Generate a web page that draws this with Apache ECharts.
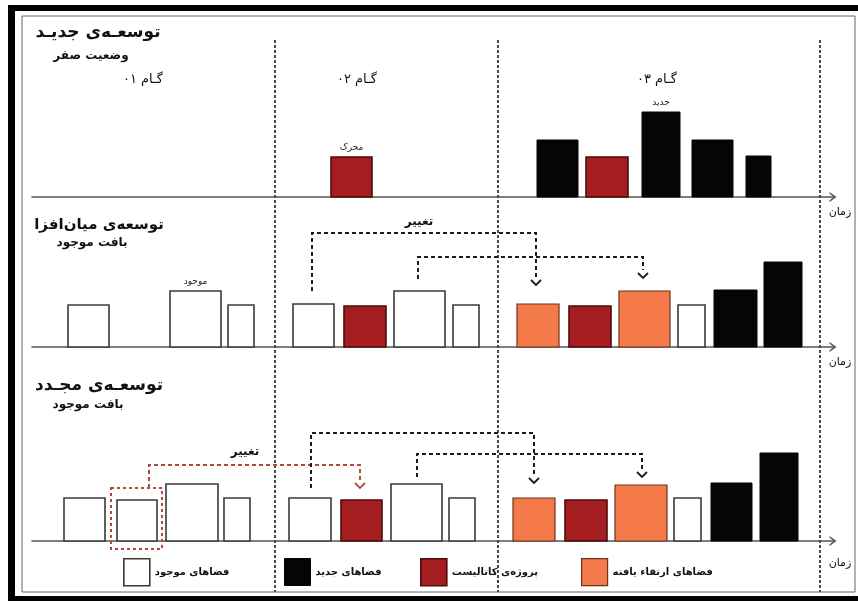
<!DOCTYPE html>
<html><head><meta charset="utf-8">
<script src="https://cdn.jsdelivr.net/npm/echarts@6/dist/echarts.min.js"></script>
<style>html,body{margin:0;padding:0;background:#fff}#c{width:858px;height:601px}</style>
</head><body><div id="c"></div>
<script>
// ---------- data ----------
const stageNames = ['گـام ۰۱', 'گـام ۰۲', 'گـام ۰۳'];
const stageBounds = [275, 498, 820];
const typeNames = ['فضاهای موجود', 'فضاهای جدید', 'پروژه‌ی کاتالیست', 'فضاهای ارتقاء یافته'];
const rowTitles = ['توسعـه‌ی جدیـد', 'توسعه‌ی میان‌افزا', 'توسعـه‌ی مجـدد'];
const rowSubtitles = ['وضعیت صفر', 'بافت موجود', 'بافت موجود'];
const timeLabel = 'زمان';
const changeLabel = 'تغییر';

// type: 0 existing, 1 new, 2 catalyst, 3 upgraded
const row1Left   = [331, 537, 586, 642, 692, 746];
const row1Right  = [372, 578, 628, 680, 733, 771];
const row1Height = [40, 57, 40, 85, 57, 41];
const row1Type   = [2, 1, 2, 1, 1, 1];
const row1Notes  = ['محرک', '', '', 'جدید', '', ''];

const row2Left   = [68, 170, 228, 293, 344, 394, 453, 517, 569, 619, 678, 714, 764];
const row2Right  = [109, 221, 254, 334, 386, 445, 479, 559, 611, 670, 705, 757, 802];
const row2Height = [42, 56, 42, 43, 41, 56, 42, 43, 41, 56, 42, 57, 85];
const row2Type   = [0, 0, 0, 0, 2, 0, 0, 3, 2, 3, 0, 1, 1];
const row2Notes  = ['', 'موجود', '', '', '', '', '', '', '', '', '', '', ''];

const row3Left   = [64, 117, 166, 224, 289, 341, 391, 449, 513, 565, 615, 674, 711, 760];
const row3Right  = [105, 157, 218, 250, 331, 382, 442, 475, 555, 607, 667, 701, 752, 798];
const row3Height = [43, 41, 57, 43, 43, 41, 57, 43, 43, 41, 56, 43, 58, 88];
const row3Type   = [0, 0, 0, 0, 0, 2, 0, 0, 3, 2, 3, 0, 1, 1];
const row3Notes  = ['', '', '', '', '', '', '', '', '', '', '', '', '', ''];

// change arrows: [x, height above baseline] points, last point = arrow tip
const row2ArrowPaths = [
  [[312, 56], [312, 114], [536, 114], [536, 62]],
  [[418, 68], [418, 90], [643, 90], [643, 69]]
];
const row2ArrowKinds = [0, 0];
const row3ArrowPaths = [
  [[149, 53], [149, 76], [360, 76], [360, 53]],
  [[311, 53], [311, 108], [534, 108], [534, 58]],
  [[417, 64], [417, 87], [642, 87], [642, 64]]
];
const row3ArrowKinds = [1, 0, 0];
const row3Box = [111, 162, -8, 53]; // left, right, bottom, top

// ---------- styles ----------
const FONT = 'DejaVu Sans';
const typeStyles = [
  { fill: '#ffffff', stroke: '#3a3a3a', lineWidth: 1.6 },
  { fill: '#050505', stroke: '#050505', lineWidth: 1 },
  { fill: '#a31d21', stroke: '#4f0d0e', lineWidth: 1.6 },
  { fill: '#f47a4b', stroke: '#6e3219', lineWidth: 1.2 }
];
const arrowColors = ['#1c1c1c', '#b3493f'];

const rows = [
  { left: row1Left, right: row1Right, h: row1Height, t: row1Type, notes: row1Notes },
  { left: row2Left, right: row2Right, h: row2Height, t: row2Type, notes: row2Notes },
  { left: row3Left, right: row3Right, h: row3Height, t: row3Type, notes: row3Notes }
];
const gridTops = [17, 200, 350];
const gridHeights = [180, 147, 191];

const chart = echarts.init(document.getElementById('c'), null, { renderer: 'canvas' });

const grids = gridTops.map((t, i) => ({ left: 32, right: 25, top: t, height: gridHeights[i] }));
grids.push({ left: 32, right: 25, top: 40, height: 552 });

const chevronPath = 'path://M0,7 L5,0 L10,7 L8.2,7 L5,2.6 L1.8,7 Z';
const xAxes = grids.map((g, i) => ({
  gridIndex: i, type: 'value', min: 32, max: 833, show: i < 3,
  axisLine: { show: true, onZero: true, symbol: ['none', chevronPath], symbolSize: [10, 7],
    lineStyle: { color: '#555', width: 1.6 } },
  axisTick: { show: false }, axisLabel: { show: false }, splitLine: { show: false }
}));
const yAxes = grids.map((g, i) => ({
  gridIndex: i, type: 'value', min: 0, max: i < 3 ? gridHeights[i] : 1, show: false
}));

const series = [];
rows.forEach((row, r) => {
  typeNames.forEach((name, t) => {
    const idx = row.t.map((v, k) => v === t ? k : -1).filter(k => k >= 0);
    if (!idx.length) return;
    series.push({
      type: 'custom', name: name, xAxisIndex: r, yAxisIndex: r, z: 3,
      data: idx.map(k => [row.left[k], row.right[k], row.h[k], k]),
      renderItem: function (params, api) {
        const p0 = api.coord([api.value(0), api.value(2)]);
        const p1 = api.coord([api.value(1), 0]);
        const k = api.value(3);
        const children = [{
          type: 'rect',
          shape: { x: p0[0], y: p0[1], width: p1[0] - p0[0], height: p1[1] - p0[1] },
          style: Object.assign({}, typeStyles[t])
        }];
        if (row.notes[k]) {
          children.push({
            type: 'text',
            style: { text: row.notes[k], x: (p0[0] + p1[0]) / 2, y: p0[1] - 9,
              align: 'center', verticalAlign: 'middle', font: '9px "' + FONT + '"', fill: '#222' }
          });
        }
        return { type: 'group', children: children };
      }
    });
  });
});

function arrowSeries(rowIndex, paths, kinds, box) {
  return {
    type: 'custom', xAxisIndex: rowIndex, yAxisIndex: rowIndex, z: 4, silent: true,
    data: paths.map((p, i) => [i]),
    renderItem: function (params, api) {
      const i = api.value(0);
      const pts = paths[i].map(p => api.coord(p));
      const tip = pts[pts.length - 1];
      const linePts = pts.slice(0, -1).concat([[tip[0], tip[1] - 8]]);
      const col = arrowColors[kinds[i]];
      const children = [
        { type: 'polyline', shape: { points: linePts },
          style: { stroke: col, lineWidth: 2, lineDash: [4, 3], fill: null } },
        { type: 'polyline', shape: { points: [[tip[0] - 5, tip[1] - 5], tip, [tip[0] + 5, tip[1] - 5]] },
          style: { stroke: col, lineWidth: 1.8, fill: null } }
      ];
      if (box && i === 0) {
        const a = api.coord([box[0], box[3]]);
        const b = api.coord([box[1], box[2]]);
        children.push({ type: 'rect', shape: { x: a[0], y: a[1], width: b[0] - a[0], height: b[1] - a[1] },
          style: { stroke: col, lineWidth: 2, lineDash: [3, 3], fill: null } });
      }
      return { type: 'group', children: children };
    }
  };
}
series.push(arrowSeries(1, row2ArrowPaths, row2ArrowKinds, null));
series.push(arrowSeries(2, row3ArrowPaths, row3ArrowKinds, row3Box));

// stage separators
series.push({
  type: 'custom', xAxisIndex: 3, yAxisIndex: 3, z: 2, silent: true,
  data: stageBounds.map(x => [x]),
  renderItem: function (params, api) {
    const a = api.coord([api.value(0), 1]);
    const b = api.coord([api.value(0), 0]);
    return { type: 'line', shape: { x1: a[0], y1: a[1], x2: b[0], y2: b[1] },
      style: { stroke: '#4a4a4a', lineWidth: 2, lineDash: [3, 2] } };
  }
});

const legendLeft = [123, 284, 420, 581];
const legends = typeNames.map((n, i) => ({
  data: [{ name: n, icon: 'rect', itemStyle: { color: typeStyles[i].fill, borderColor: typeStyles[i].stroke, borderWidth: typeStyles[i].lineWidth } }],
  left: legendLeft[i], top: 558, itemWidth: 26, itemHeight: 27, padding: 0,
  selectedMode: false,
  textStyle: { fontFamily: FONT, fontWeight: 'bold', fontSize: 10, color: '#111' }
}));

function txt(x, y, text, size, bold) {
  return { type: 'text', x: x, y: y, z: 10,
    style: { text: text, align: 'center', verticalAlign: 'middle',
      font: (bold ? 'bold ' : '') + size + 'px "' + FONT + '"', fill: '#111' } };
}
const titlePos = [[98, 33], [99, 225], [99, 386]];
const titleSizes = [17, 15, 17];
const subPos = [[91, 56], [92, 243], [88, 405]];
const stagePos = [[143, 80], [357, 80], [657, 80]];
const timePos = [[840, 212], [840, 362], [840, 563]];
const changePos = [[419, 222], [245, 452]];

const graphics = [
  { type: 'rect', shape: { x: 8, y: 5, width: 850, height: 6 }, style: { fill: '#000' } },
  { type: 'rect', shape: { x: 8, y: 5, width: 7, height: 596 }, style: { fill: '#000' } },
  { type: 'rect', shape: { x: 8, y: 596, width: 850, height: 5 }, style: { fill: '#000' } },
  { type: 'rect', shape: { x: 22, y: 16, width: 833, height: 576 }, style: { fill: null, stroke: '#666', lineWidth: 1 } }
];
rowTitles.forEach((t, i) => graphics.push(txt(titlePos[i][0], titlePos[i][1], t, titleSizes[i], true)));
rowSubtitles.forEach((t, i) => graphics.push(txt(subPos[i][0], subPos[i][1], t, 12, true)));
stageNames.forEach((t, i) => graphics.push(txt(stagePos[i][0], stagePos[i][1], t, 13, false)));
timePos.forEach(p => graphics.push(txt(p[0], p[1], timeLabel, 11, false)));
changePos.forEach(p => graphics.push(txt(p[0], p[1], changeLabel, 12, true)));

chart.setOption({
  animation: false,
  backgroundColor: '#fff',
  grid: grids,
  xAxis: xAxes,
  yAxis: yAxes,
  legend: legends,
  series: series,
  graphic: graphics
});
</script></body></html>
